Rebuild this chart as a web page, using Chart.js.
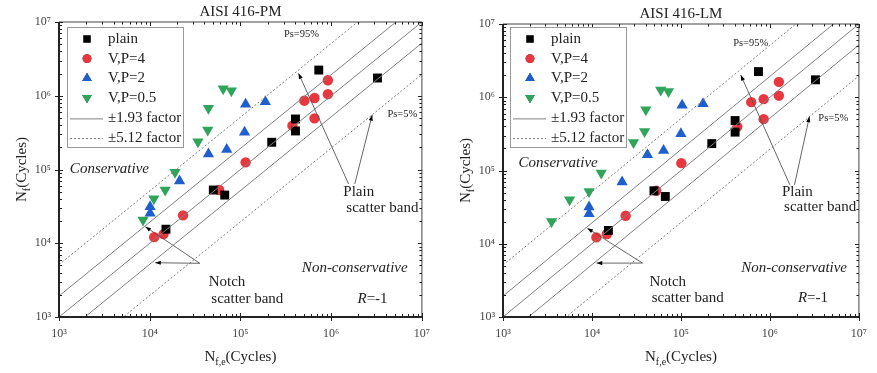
<!DOCTYPE html>
<html>
<head>
<meta charset="utf-8">
<script src="https://cdn.jsdelivr.net/npm/chart.js@4.4.0/dist/chart.umd.min.js"></script>
<style>
body { margin: 0; background: #fff; }
#wrap { position: relative; width: 877px; height: 373px; }
.panel { position: absolute; top: 0; height: 373px; }
</style>
</head>
<body>
<div id="wrap">
  <div class="panel" style="left:0;width:440px"><canvas id="chartPM"></canvas></div>
  <div class="panel" style="left:440px;width:437px"><canvas id="chartLM"></canvas></div>
</div>
<script>
// AISI 416-PM  (x = Nf,e estimated, y = Nf experimental)
var pmPlainX = [7.3e5, 3.24e6, 4.04e5, 4.04e5, 2.21e5, 5.02e4, 6.71e4, 1.51e4];
var pmPlainY = [2.23e6, 1.74e6, 4.84e5, 3.33e5, 2.34e5, 5.27e4, 4.5e4, 1.55e4];
var pmP4X = [9.2e5, 9.2e5, 5.06e5, 6.55e5, 6.55e5, 3.74e5, 1.14e5, 5.83e4, 2.33e4, 1.42e4, 1.12e4];
var pmP4Y = [1.62e6, 1.05e6, 8.57e5, 9.33e5, 4.94e5, 3.93e5, 1.25e5, 5.27e4, 2.39e4, 1.33e4, 1.21e4];
var pmP2X = [1.14e5, 1.88e5, 1.11e5, 4.44e4, 7.06e4, 2.13e4, 1.01e4, 1.01e4];
var pmP2Y = [7.66e5, 8.3e5, 3.19e5, 1.62e5, 1.86e5, 6.98e4, 3.13e4, 2.55e4];
var pmP05X = [6.45e4, 7.94e4, 4.44e4, 4.36e4, 3.4e4, 1.9e4, 1.48e4, 1.11e4, 8.44e3];
var pmP05Y = [1.24e6, 1.17e6, 6.76e5, 3.44e5, 2.38e5, 9.16e4, 5.27e4, 4.02e4, 2.07e4];

// AISI 416-LM
var lmPlainX = [7.43e5, 3.25e6, 4.06e5, 4.06e5, 2.22e5, 4.97e4, 6.67e4, 1.53e4];
var lmPlainY = [2.24e6, 1.73e6, 4.81e5, 3.34e5, 2.33e5, 5.28e4, 4.42e4, 1.52e4];
var lmP4X = [1.26e6, 1.26e6, 6.17e5, 8.5e5, 8.5e5, 4.3e5, 1.01e5, 5.27e4, 2.39e4, 1.47e4, 1.12e4];
var lmP4Y = [1.62e6, 1.05e6, 8.57e5, 9.42e5, 5.02e5, 3.98e5, 1.26e5, 5.28e4, 2.41e4, 1.36e4, 1.22e4];
var lmP2X = [1.03e5, 1.77e5, 9.98e4, 4.2e4, 6.38e4, 2.18e4, 9.27e3, 9.27e3];
var lmP2Y = [7.8e5, 8.13e5, 3.17e5, 1.64e5, 1.87e5, 6.95e4, 3.17e4, 2.56e4];
var lmP05X = [5.92e4, 7.24e4, 4.03e4, 3.9e4, 2.93e4, 1.27e4, 9.27e3, 5.6e3, 3.52e3];
var lmP05Y = [1.26e6, 1.2e6, 6.73e5, 3.4e5, 2.41e5, 9.23e4, 5.18e4, 3.98e4, 2.01e4];

// scatter band factors
var solidFactors = [1, 1.93, 1 / 1.93];
var dashFactors = [5.12, 1 / 5.12];
var axisMin = 1e3, axisMax = 1e7;
var seriesNames = ['plain', 'V,P=4', 'V,P=2', 'V,P=0.5'];
var bandNames = ['\u00b11.93 factor', '\u00b15.12 factor'];

var RED = '#e8373f', BLUE = '#1f5fcd', GREEN = '#2ea55b', GREY = '#808080';
var FONT = "'Liberation Serif', 'Times New Roman', serif";
var sup = { 3: '\u00b3', 4: '\u2074', 5: '\u2075', 6: '\u2076', 7: '\u2077' };

function zip(xs, ys) {
	return xs.map(function (x, i) { return { x: x, y: ys[i] }; });
}

function isMajor(v) {
	var e = Math.log10(v);
	return Math.abs(e - Math.round(e)) < 1e-9;
}

function logTicks(scale) {
	var t = [];
	for (var e = 3; e < 7; e++) {
		for (var m = 1; m < 10; m++) t.push({ value: m * Math.pow(10, e) });
	}
	t.push({ value: axisMax });
	scale.ticks = t;
}

function bandSet(k, dashed) {
	return {
		type: 'line',
		data: [{ x: axisMin, y: k * axisMin }, { x: axisMax, y: k * axisMax }],
		borderColor: GREY,
		borderWidth: 1,
		borderDash: dashed ? [2, 2] : [],
		pointRadius: 0,
		showLine: true
	};
}

function pointSet(xs, ys, style, color, r, rot) {
	return {
		data: zip(xs, ys),
		pointStyle: style,
		pointRadius: r,
		pointRotation: rot,
		backgroundColor: color,
		borderColor: color,
		pointBorderWidth: 0
	};
}

function arrow(ctx, x1, y1, x2, y2) {
	ctx.strokeStyle = '#555';
	ctx.lineWidth = 0.9;
	ctx.beginPath(); ctx.moveTo(x1, y1); ctx.lineTo(x2, y2); ctx.stroke();
	var ang = Math.atan2(y2 - y1, x2 - x1);
	ctx.fillStyle = '#000';
	ctx.beginPath();
	ctx.moveTo(x2, y2);
	ctx.lineTo(x2 - 6 * Math.cos(ang - 0.35), y2 - 6 * Math.sin(ang - 0.35));
	ctx.lineTo(x2 - 6 * Math.cos(ang + 0.35), y2 - 6 * Math.sin(ang + 0.35));
	ctx.closePath(); ctx.fill();
}

function decor(title, note) {
	return {
		id: 'decor',
		afterDatasetsDraw: function (chart) {
			var ctx = chart.ctx, a = chart.chartArea;
			var xs = chart.scales.x, ys = chart.scales.y;
			var W = a.right - a.left, H = a.bottom - a.top;
			function px(p) { return a.left + p[0] * W; }
			function py(p) { return a.top + p[1] * H; }
			ctx.save();

			// frame
			ctx.strokeStyle = '#444'; ctx.lineWidth = 1;
			ctx.beginPath();
			ctx.moveTo(a.left, a.top); ctx.lineTo(a.right, a.top); ctx.lineTo(a.right, a.bottom);
			ctx.stroke();
			ctx.strokeStyle = '#222'; ctx.lineWidth = 2;
			ctx.beginPath();
			ctx.moveTo(a.left, a.top); ctx.lineTo(a.left, a.bottom); ctx.lineTo(a.right, a.bottom);
			ctx.stroke();

			// tick marks
			ctx.lineWidth = 1; ctx.strokeStyle = '#222';
			ctx.beginPath();
			xs.ticks.forEach(function (t) {
				var x = Math.round(xs.getPixelForValue(t.value)) + 0.5;
				var maj = isMajor(t.value);
				ctx.moveTo(x, a.bottom + (maj ? 4 : 0)); ctx.lineTo(x, a.bottom - (maj ? 4 : 3));
				ctx.moveTo(x, a.top); ctx.lineTo(x, a.top + (maj ? 4 : 2.5));
			});
			ys.ticks.forEach(function (t) {
				var y = Math.round(ys.getPixelForValue(t.value)) + 0.5;
				var maj = isMajor(t.value);
				ctx.moveTo(a.left - (maj ? 4 : 0), y); ctx.lineTo(a.left + (maj ? 4 : 3), y);
				ctx.moveTo(a.right, y); ctx.lineTo(a.right - (maj ? 4 : 2.5), y);
			});
			ctx.stroke();

			// title
			ctx.fillStyle = '#222';
			ctx.textAlign = 'center'; ctx.textBaseline = 'middle';
			ctx.font = '15px ' + FONT;
			ctx.fillText(title, (a.left + a.right) / 2, a.top - 10);

			// axis titles
			function subTitle(x, y, main, sub, rest) {
				ctx.font = '15px ' + FONT;
				var w1 = ctx.measureText(main).width, w3 = ctx.measureText(rest).width;
				ctx.font = '10px ' + FONT;
				var w2 = ctx.measureText(sub).width;
				var x0 = x - (w1 + w2 + w3) / 2;
				ctx.textAlign = 'left'; ctx.textBaseline = 'alphabetic';
				ctx.font = '15px ' + FONT; ctx.fillText(main, x0, y);
				ctx.font = '10px ' + FONT; ctx.fillText(sub, x0 + w1, y + 4);
				ctx.font = '15px ' + FONT; ctx.fillText(rest, x0 + w1 + w2, y);
			}
			subTitle((a.left + a.right) / 2, a.bottom + 44, 'N', 'f,e', '(Cycles)');
			ctx.save();
			ctx.translate(a.left - 33, (a.top + a.bottom) / 2);
			ctx.rotate(-Math.PI / 2);
			subTitle(0, 0, 'N', 'f', '(Cycles)');
			ctx.restore();

			// scatter band arrows
			arrow(ctx, px(note.plainFrom[0]), py(note.plainFrom[0]), px(note.arr95), py(note.arr95));
			arrow(ctx, px(note.plainFrom[1]), py(note.plainFrom[1]), px(note.arr5), py(note.arr5));
			arrow(ctx, px(note.notchFrom), py(note.notchFrom), px(note.notchTo[0]), py(note.notchTo[0]));
			arrow(ctx, px(note.notchFrom), py(note.notchFrom), px(note.notchTo[1]), py(note.notchTo[1]));

			// labels
			ctx.fillStyle = '#222';
			ctx.textAlign = 'center'; ctx.textBaseline = 'middle';
			ctx.font = '10.5px ' + FONT;
			ctx.fillText('Ps=95%', px(note.ps95), py(note.ps95));
			ctx.fillText('Ps=5%', px(note.ps5), py(note.ps5));
			ctx.font = '15px ' + FONT;
			ctx.fillText('Plain', px(note.plain1), py(note.plain1));
			ctx.fillText('scatter band', px(note.plain2), py(note.plain2));
			ctx.fillText('Notch', px(note.notch1), py(note.notch1));
			ctx.fillText('scatter band', px(note.notch2), py(note.notch2));
			ctx.font = 'italic 15px ' + FONT;
			ctx.fillText('Conservative', px(note.cons), py(note.cons));
			ctx.fillText('Non-conservative', px(note.noncons), py(note.noncons));
			// R=-1
			ctx.textAlign = 'left';
			var rx = px(note.r), ry = py(note.r);
			ctx.font = 'italic 15px ' + FONT;
			var wr = ctx.measureText('R').width;
			ctx.font = '15px ' + FONT;
			var wt = ctx.measureText('=-1').width;
			ctx.font = 'italic 15px ' + FONT;
			ctx.fillText('R', rx - (wr + wt) / 2, ry);
			ctx.font = '15px ' + FONT;
			ctx.fillText('=-1', rx - (wr + wt) / 2 + wr, ry);

			// legend
			var lx = a.left + note.legend[0], ly = a.top + note.legend[1];
			ctx.fillStyle = '#fff';
			ctx.fillRect(lx, ly, 116, 120);
			ctx.strokeStyle = '#999'; ctx.lineWidth = 1;
			ctx.strokeRect(lx + 0.5, ly + 0.5, 116, 120);
			var rows = chart.data.datasets.filter(function (d) { return d.type !== 'line'; });
			ctx.font = '15px ' + FONT; ctx.textAlign = 'left'; ctx.textBaseline = 'middle';
			rows.forEach(function (d, i) {
				var yy = ly + 12 + i * 19.6;
				Chart.helpers.drawPoint(ctx, {
					pointStyle: d.pointStyle, radius: d.pointRadius * 0.85,
					rotation: d.pointRotation, borderWidth: 0
				}, lx + 20, yy);
				ctx.fillStyle = d.backgroundColor;
				ctx.fill();
				ctx.fillStyle = '#222';
				ctx.fillText(seriesNames[i], lx + 41, yy);
			});
			bandNames.forEach(function (n, i) {
				var yy = ly + 12 + (4 + i) * 19.6 + 1;
				ctx.strokeStyle = GREY; ctx.lineWidth = 1;
				ctx.setLineDash(i ? [2, 2] : []);
				ctx.beginPath(); ctx.moveTo(lx + 3, yy + 0.5); ctx.lineTo(lx + 36, yy + 0.5); ctx.stroke();
				ctx.setLineDash([]);
				ctx.fillStyle = '#222';
				ctx.fillText(n, lx + 41, yy);
			});
			ctx.restore();
		}
	};
}

function makeChart(id, title, s, note, pad, yWidth) {
	var sets = solidFactors.map(function (k) { return bandSet(k, false); })
		.concat(dashFactors.map(function (k) { return bandSet(k, true); }))
		.concat([
			pointSet(s[0], s[1], 'rect', '#000000', 6.3, 0),
			pointSet(s[2], s[3], 'circle', RED, 5.2, 0),
			pointSet(s[4], s[5], 'triangle', BLUE, 6.5, 0),
			pointSet(s[6], s[7], 'triangle', GREEN, 6.5, 180)
		]);
	var tickFont = { family: FONT, size: 12 };
	return new Chart(document.getElementById(id), {
		type: 'scatter',
		data: { datasets: sets },
		options: {
			responsive: true,
			maintainAspectRatio: false,
			animation: false,
			layout: { padding: pad },
			plugins: { legend: { display: false }, title: { display: false }, tooltip: { enabled: false } },
			scales: {
				x: {
					type: 'logarithmic', min: axisMin, max: axisMax,
					afterBuildTicks: logTicks,
					afterFit: function (sc) { sc.height = 56; },
					grid: { display: false, drawTicks: false },
					border: { display: false },
					ticks: {
						autoSkip: false, maxRotation: 0, padding: 10, color: '#444', font: tickFont,
						callback: function (v) { return isMajor(v) ? '10' + sup[Math.round(Math.log10(v))] : ''; }
					}
				},
				y: {
					type: 'logarithmic', min: axisMin, max: axisMax,
					afterBuildTicks: logTicks,
					afterFit: function (sc) { sc.width = yWidth; },
					grid: { display: false, drawTicks: false },
					border: { display: false },
					ticks: {
						autoSkip: false, padding: 8, color: '#444', font: tickFont,
						callback: function (v) { return isMajor(v) ? '10' + sup[Math.round(Math.log10(v))] : ''; }
					}
				}
			}
		},
		plugins: [decor(title, note)]
	});
}

makeChart('chartPM', 'AISI 416-PM',
	[pmPlainX, pmPlainY, pmP4X, pmP4Y, pmP2X, pmP2Y, pmP05X, pmP05Y],
	{
		ps95: [0.668, 0.041], ps5: [0.946, 0.312],
		arr95: [0.660, 0.174], arr5: [0.863, 0.315],
		plainFrom: [[0.798, 0.549], [0.815, 0.549]],
		plain1: [0.826, 0.578], plain2: [0.891, 0.630],
		notchFrom: [0.388, 0.818], notchTo: [[0.238, 0.694], [0.265, 0.816]],
		notch1: [0.463, 0.883], notch2: [0.519, 0.938],
		cons: [0.139, 0.498], noncons: [0.815, 0.833], r: [0.864, 0.938],
		legend: [8, 5]
	},
	{ left: 0, right: 13, top: 22, bottom: 0 }, 59);

makeChart('chartLM', 'AISI 416-LM',
	[lmPlainX, lmPlainY, lmP4X, lmP4Y, lmP2X, lmP2Y, lmP05X, lmP05Y],
	{
		ps95: [0.696, 0.065], ps5: [0.928, 0.320],
		arr95: [0.668, 0.174], arr5: [0.861, 0.316],
		plainFrom: [[0.806, 0.549], [0.819, 0.549]],
		plain1: [0.827, 0.575], plain2: [0.891, 0.626],
		notchFrom: [0.392, 0.816], notchTo: [[0.237, 0.697], [0.263, 0.816]],
		notch1: [0.463, 0.882], notch2: [0.519, 0.936],
		cons: [0.155, 0.474], noncons: [0.818, 0.834], r: [0.871, 0.936],
		legend: [7, 3]
	},
	{ left: 0, right: 8, top: 24, bottom: 0 }, 63);
</script>
</body>
</html>
